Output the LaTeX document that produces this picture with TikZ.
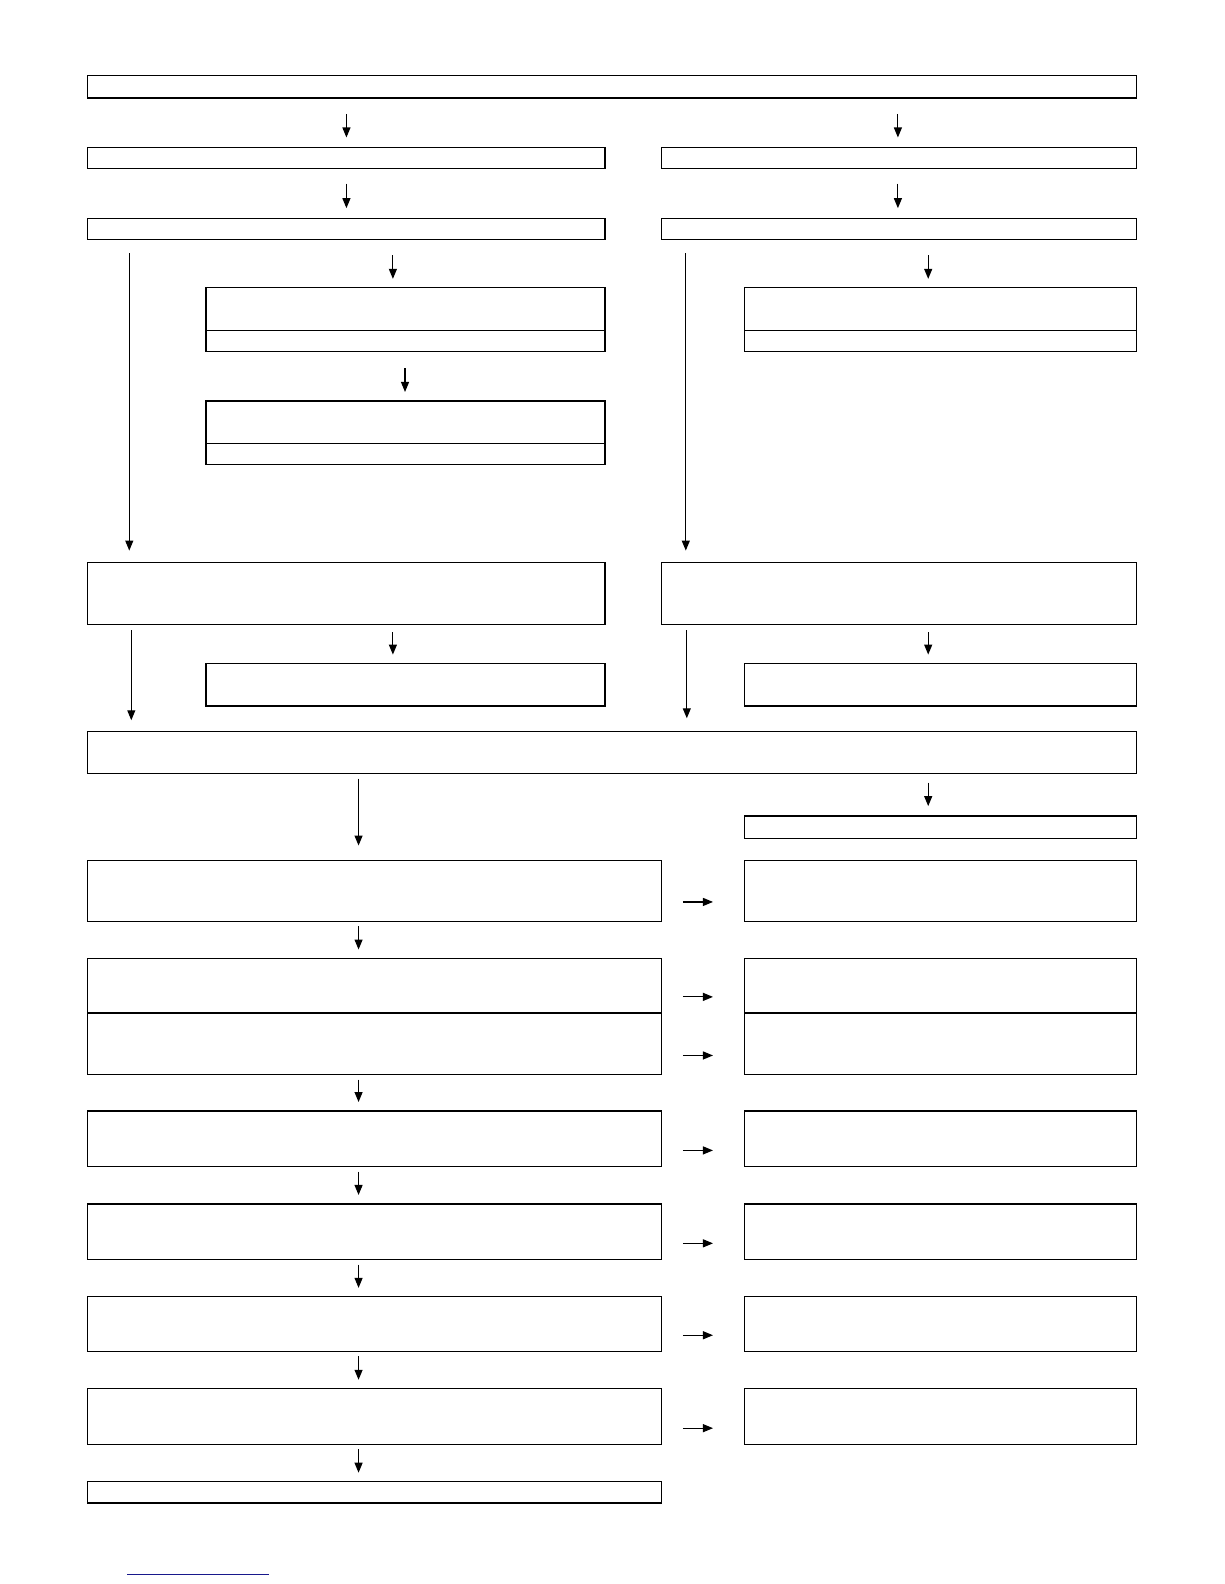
\documentclass[tikz,border=0pt]{standalone}
\usetikzlibrary{arrows.meta}

\tikzset{
  box/.style={draw, line width=0.6pt, anchor=north west, inner sep=0pt, outer sep=0pt},
  flow/.style={-{Triangle[length=5pt,width=4pt]}, line width=0.55pt},
  linkline/.style={draw=linkblue, line width=0.8pt},
}
\definecolor{linkblue}{RGB}{24,24,140}

% empty box from corner (x1,y1) to corner (x2,y2)
\newcommand{\panel}[5]{%
  \pgfmathsetmacro{\pw}{(#4-#2)*0.505}%
  \pgfmathsetmacro{\ph}{(#5-#3)*0.505}%
  \node[box, minimum width=\pw pt, minimum height=\ph pt] (#1) at (#2,#3) {};}

\begin{document}
\begin{tikzpicture}[x=0.505pt, y=-0.505pt]
            \useasboundingbox (0,0) rectangle (1212,1568.3);
            % upper part
            \panel{top}{87}{75}{1125}{97}
            \panel{l1}{87}{146}{599}{167}
            \panel{r1}{655}{146}{1125}{167}
            \panel{l2}{87}{216}{599}{237}
            \panel{r2}{655}{216}{1125}{237}
            \panel{la}{204}{285}{599}{327}
            \panel{lab}{204}{327}{599}{348}
            \panel{lb}{204}{397}{599}{439}
            \panel{lbb}{204}{439}{599}{460}
            \panel{ra}{737}{285}{1125}{327}
            \panel{rab}{737}{327}{1125}{348}
            \panel{l3}{87}{557}{599}{618}
            \panel{r3}{655}{557}{1125}{618}
            \panel{lc}{204}{657}{599}{699}
            \panel{rc}{737}{657}{1125}{699}
            \panel{mid}{87}{724}{1125}{766}
            \panel{rd}{737}{808}{1125}{830}
            % lower part
            \panel{s1}{87}{852}{655}{912}
            \panel{t1}{737}{852}{1125}{912}
            \panel{s2}{87}{949}{655}{1003}
            \panel{t2}{737}{949}{1125}{1003}
            \panel{s3}{87}{1003}{655}{1064}
            \panel{t3}{737}{1003}{1125}{1064}
            \panel{s4}{87}{1100}{655}{1155}
            \panel{t4}{737}{1100}{1125}{1155}
            \panel{s5}{87}{1192}{655}{1247}
            \panel{t5}{737}{1192}{1125}{1247}
            \panel{s6}{87}{1284}{655}{1338}
            \panel{t6}{737}{1284}{1125}{1338}
            \panel{s7}{87}{1375}{655}{1430}
            \panel{t7}{737}{1375}{1125}{1430}
            \panel{s8}{87}{1467}{655}{1488}
            % arrows, upper part
            \draw[flow, shorten <=8pt, shorten >=5pt] (top.south -| 343,0) -- (l1.north -| 343,0);
            \draw[flow, shorten <=8pt, shorten >=5pt] (top.south -| 889,0) -- (r1.north -| 889,0);
            \draw[flow, shorten <=7.5pt, shorten >=5pt] (l1.south -| 343,0) -- (l2.north -| 343,0);
            \draw[flow, shorten <=7.5pt, shorten >=5pt] (r1.south -| 889,0) -- (r2.north -| 889,0);
            \draw[flow, shorten <=8pt, shorten >=4.5pt] (l2.south -| 389,0) -- (la.north -| 389,0);
            \draw[flow, shorten <=8pt, shorten >=4.5pt] (r2.south -| 919,0) -- (ra.north -| 919,0);
            \draw[flow, shorten <=8.5pt, shorten >=4.5pt] (lab.south -| 401,0) -- (lb.north -| 401,0);
            \draw[flow, shorten <=7pt, shorten >=6pt] (l2.south -| 128,0) -- (l3.north -| 128,0);
            \draw[flow, shorten <=7pt, shorten >=6pt] (r2.south -| 679,0) -- (r3.north -| 679,0);
            \draw[flow, shorten <=4pt, shorten >=4.5pt] (l3.south -| 389,0) -- (lc.north -| 389,0);
            \draw[flow, shorten <=4pt, shorten >=4.5pt] (r3.south -| 919,0) -- (rc.north -| 919,0);
            \draw[flow, shorten <=3pt, shorten >=5.5pt] (l3.south -| 130,0) -- (mid.north -| 130,0);
            \draw[flow, shorten <=3pt, shorten >=6.5pt] (r3.south -| 680,0) -- (mid.north -| 680,0);
            \draw[flow, shorten <=2.5pt, shorten >=7.5pt] (mid.south -| 355,0) -- (s1.north -| 355,0);
            \draw[flow, shorten <=4.5pt, shorten >=5pt] (mid.south -| 919,0) -- (rd.north -| 919,0);
            % arrows, lower part
            \foreach \a/\b in {s1/s2, s3/s4, s4/s5, s5/s6, s6/s7, s7/s8}
              \draw[flow, shorten <=2.5pt, shorten >=4.5pt] (\a.south -| 355,0) -- (\b.north -| 355,0);
            \foreach \a/\b/\y in {s1/t1/893, s2/t2/987, s3/t3/1045, s4/t4/1139, s5/t5/1231, s6/t6/1322, s7/t7/1414}
              \draw[flow, shorten <=10.6pt, shorten >=15.7pt] (\a.east |- 0,\y) -- (\b.west |- 0,\y);
            % underline at the foot of the page
            \draw[linkline] (126,1559) -- (266,1559);
\end{tikzpicture}
\end{document}
